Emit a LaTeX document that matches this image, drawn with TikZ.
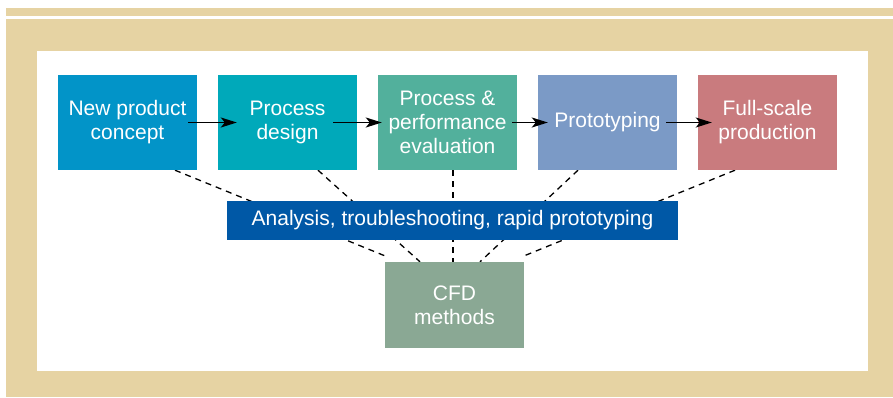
\documentclass[tikz,border=0pt]{standalone}
\usepackage{fontspec}
\setmainfont{Liberation Sans}
\usetikzlibrary{arrows.meta}
\pgfdeclarelayer{bg}
\pgfdeclarelayer{lines}
\pgfsetlayers{bg,lines,main}
\definecolor{tan}{RGB}{230,211,163}
\definecolor{cA}{RGB}{2,148,200}
\definecolor{cB}{RGB}{0,169,186}
\definecolor{cC}{RGB}{82,176,156}
\definecolor{cD}{RGB}{123,154,198}
\definecolor{cE}{RGB}{201,123,126}
\definecolor{cBar}{RGB}{0,88,166}
\definecolor{cCFD}{RGB}{138,168,148}
\tikzset{
  stagebox/.style={rectangle, inner sep=0pt, minimum width=139pt, minimum height=95pt,
    text=white, align=center, font=\fontsize{21}{24}\selectfont},
  flowarrow/.style={line width=1.8pt, -{Stealth[length=16pt,width=10pt,inset=4pt]}},
  dashlink/.style={line width=1.3pt, dash pattern=on 6pt off 5pt}
}
\begin{document}
\begin{tikzpicture}[x=1pt,y=-1pt]
\useasboundingbox (0,0) rectangle (893,397);
\begin{pgfonlayer}{bg}
  \fill[white] (0,0) rectangle (893,397);
  \fill[tan] (6,8) rectangle (893,16);
  \fill[tan] (6,19) rectangle (893,397);
  \fill[white] (37,51) rectangle (868,371);
\end{pgfonlayer}

\node[stagebox, fill=cA] (b1) at (127.5,122.5) {New product\\concept};
\node[stagebox, fill=cB] (b2) at (287.5,122.5) {Process\\design};
\node[stagebox, fill=cC] (b3) at (447.5,122.5) {Process \&\\performance\\evaluation};
\node[stagebox, fill=cD] (b4) at (607.5,122.5) {Prototyping};
\node[stagebox, fill=cE] (b5) at (767.5,122.5) {Full-scale\\production};
\node[rectangle, inner sep=0pt, minimum width=451pt, minimum height=39pt, fill=cBar,
  text=white, font=\fontsize{21}{24}\selectfont] (bar) at (452.5,220.5)
  {Analysis, troubleshooting, rapid prototyping};
\node[stagebox, fill=cCFD, minimum height=86pt] (cfd) at (454.5,305) {CFD\\methods};

\draw[flowarrow] ([xshift=-9pt]b1.east) -- ([xshift=19pt]b2.west);
\draw[flowarrow] ([xshift=-24pt]b2.east) -- ([xshift=4pt]b3.west);
\draw[flowarrow] ([xshift=-5pt]b3.east) -- ([xshift=10pt]b4.west);
\draw[flowarrow] ([xshift=-11pt]b4.east) -- ([xshift=14pt]b5.west);

\begin{pgfonlayer}{lines}
  \draw[dashlink] ([xshift=47.5pt]b1.south) -- ([yshift=6pt]cfd.north west);
  \draw[dashlink] ([xshift=30.5pt]b2.south) -- ([xshift=-34.5pt]cfd.north);
  \draw[dashlink] ([xshift=5.5pt]b3.south) -- ([xshift=-1.5pt]cfd.north);
  \draw[dashlink] ([xshift=-29.5pt]b4.south) -- ([xshift=25.5pt]cfd.north);
  \draw[dashlink] ([xshift=-32.5pt]b5.south) -- ([yshift=6pt]cfd.north east);
\end{pgfonlayer}
\end{tikzpicture}
\end{document}
